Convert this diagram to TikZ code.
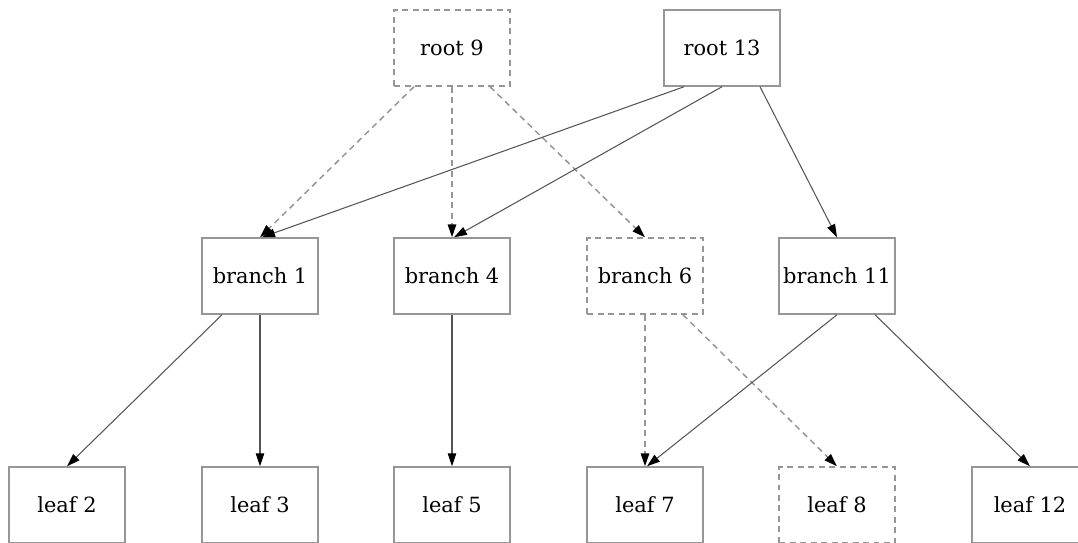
\documentclass[tikz,border=0pt]{standalone}
\usepackage{fontspec}
\setmainfont{DejaVu Serif}
\usetikzlibrary{arrows.meta,calc}
\definecolor{boxgray}{RGB}{150,150,150}
\definecolor{edgegray}{RGB}{85,85,85}

\begin{document}
\begin{tikzpicture}[x=0.02cm,y=-0.02cm,
    box/.style={draw=boxgray,line width=0.85pt,minimum width=2.32cm,minimum height=1.52cm,
      inner sep=0pt,font=\fontsize{11.9}{14}\selectfont},
    dbox/.style={box,dash pattern=on 0.12cm off 0.09cm},
    edge/.style={draw=edgegray,line width=0.6pt,-{Triangle[length=0.26cm,width=0.17cm,black]}},
    dedge/.style={edge,draw=boxgray,line width=0.85pt,dash pattern=on 0.12cm off 0.09cm}]
      \useasboundingbox (0,0) rectangle (1078,542);
      % roots
      \node[dbox] (r9) at (452,48) {root 9};
      \node[box] (r13) at (722,48) {root 13};
      % branches
      \node[box] (b1) at (260,276) {branch 1};
      \node[box] (b4) at (452,276) {branch 4};
      \node[dbox] (b6) at (645,276) {branch 6};
      \node[box] (b11) at (837,276) {branch 11};
      % leaves
      \node[box] (l2) at (67,505) {leaf 2};
      \node[box] (l3) at (260,505) {leaf 3};
      \node[box] (l5) at (452,505) {leaf 5};
      \node[box] (l7) at (645,505) {leaf 7};
      \node[dbox] (l8) at (837,505) {leaf 8};
      \node[box] (l12) at (1030,505) {leaf 12};
      % edges
      \draw[dedge] ($(r9.south)+(-38,0)$) -- (b1.north);
      \draw[dedge] (r9.south) -- (b4.north);
      \draw[dedge] ($(r9.south)+(38,0)$) -- (b6.north);
      \draw[edge] ($(r13.south)+(-38,0)$) -- ($(b1.north)+(2,0)$);
      \draw[edge] (r13.south) -- ($(b4.north)+(2,0)$);
      \draw[edge] ($(r13.south)+(38,0)$) -- (b11.north);
      \draw[edge] ($(b1.south)+(-38,0)$) -- (l2.north);
      \draw[edge] (b1.south) -- (l3.north);
      \draw[edge] (b4.south) -- (l5.north);
      \draw[dedge] (b6.south) -- (l7.north);
      \draw[dedge] ($(b6.south)+(38,0)$) -- (l8.north);
      \draw[edge] (b11.south) -- ($(l7.north)+(2,0)$);
      \draw[edge] ($(b11.south)+(38,0)$) -- (l12.north);
\end{tikzpicture}
\end{document}
